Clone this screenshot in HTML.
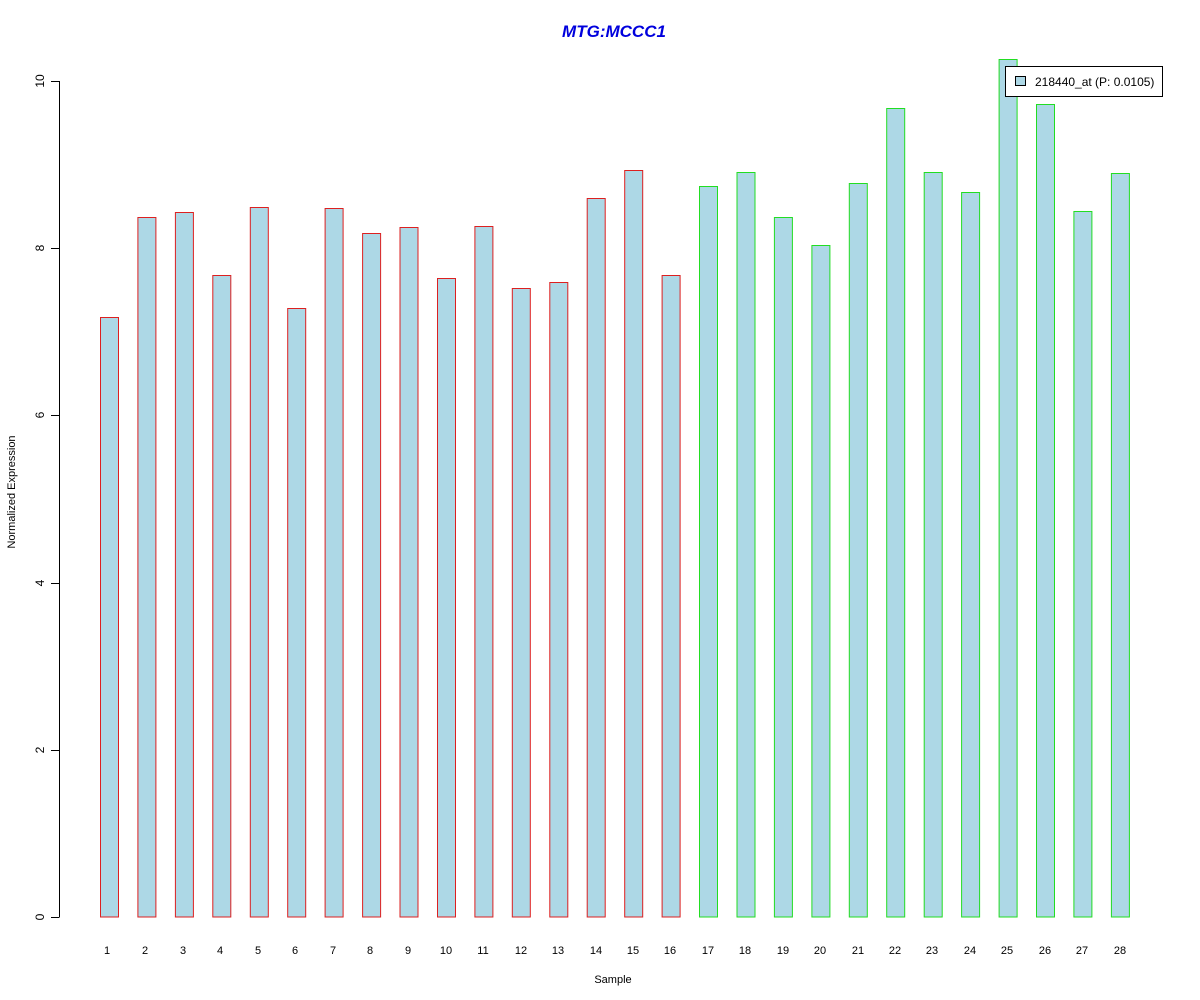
<!DOCTYPE html>
<html><head><style>body{margin:0;background:#fff}svg{display:block}</style></head><body>
<svg width="1200" height="1000" xmlns="http://www.w3.org/2000/svg" font-family="Liberation Sans, Arial, sans-serif">
<rect width="1200" height="1000" fill="#fff"/>
<text x="614" y="37" text-anchor="middle" font-size="17" font-weight="bold" font-style="italic" fill="#0000dd">MTG:MCCC1</text>
<g fill="#add8e6" stroke="#dd2020" stroke-width="1">
<rect x="100.5" y="317.5" width="18" height="599.5"/>
<rect x="137.9" y="217.5" width="18" height="699.5"/>
<rect x="175.4" y="212.5" width="18" height="704.5"/>
<rect x="212.8" y="275.5" width="18" height="641.5"/>
<rect x="250.3" y="207.5" width="18" height="709.5"/>
<rect x="287.7" y="308.5" width="18" height="608.5"/>
<rect x="325.1" y="208.5" width="18" height="708.5"/>
<rect x="362.6" y="233.5" width="18" height="683.5"/>
<rect x="400" y="227.5" width="18" height="689.5"/>
<rect x="437.5" y="278.5" width="18" height="638.5"/>
<rect x="474.9" y="226.5" width="18" height="690.5"/>
<rect x="512.3" y="288.5" width="18" height="628.5"/>
<rect x="549.8" y="282.5" width="18" height="634.5"/>
<rect x="587.2" y="198.5" width="18" height="718.5"/>
<rect x="624.7" y="170.5" width="18" height="746.5"/>
<rect x="662.1" y="275.5" width="18" height="641.5"/>
</g>
<g fill="#add8e6" stroke="#22dd22" stroke-width="1">
<rect x="699.5" y="186.5" width="18" height="730.5"/>
<rect x="737" y="172.5" width="18" height="744.5"/>
<rect x="774.4" y="217.5" width="18" height="699.5"/>
<rect x="811.9" y="245.5" width="18" height="671.5"/>
<rect x="849.3" y="183.5" width="18" height="733.5"/>
<rect x="886.7" y="108.5" width="18" height="808.5"/>
<rect x="924.2" y="172.5" width="18" height="744.5"/>
<rect x="961.6" y="192.5" width="18" height="724.5"/>
<rect x="999.1" y="59.5" width="18" height="857.5"/>
<rect x="1036.5" y="104.5" width="18" height="812.5"/>
<rect x="1073.9" y="211.5" width="18" height="705.5"/>
<rect x="1111.4" y="173.5" width="18" height="743.5"/>
</g>
<g stroke="#000" stroke-width="1">
<line x1="59.5" y1="81" x2="59.5" y2="917"/>
<line x1="51" y1="917.5" x2="59.5" y2="917.5"/>
<line x1="51" y1="750.5" x2="59.5" y2="750.5"/>
<line x1="51" y1="583.5" x2="59.5" y2="583.5"/>
<line x1="51" y1="415.5" x2="59.5" y2="415.5"/>
<line x1="51" y1="248.5" x2="59.5" y2="248.5"/>
<line x1="51" y1="81.5" x2="59.5" y2="81.5"/>
</g>
<g font-size="12" text-anchor="middle" fill="#000">
<text transform="translate(44,917) rotate(-90)">0</text>
<text transform="translate(44,750) rotate(-90)">2</text>
<text transform="translate(44,583) rotate(-90)">4</text>
<text transform="translate(44,415) rotate(-90)">6</text>
<text transform="translate(44,248) rotate(-90)">8</text>
<text transform="translate(44,81) rotate(-90)">10</text>
<text transform="translate(15,492) rotate(-90)" font-size="11">Normalized Expression</text>
</g>
<g font-size="11" text-anchor="middle" fill="#000">
<text x="107" y="954">1</text><text x="145" y="954">2</text><text x="183" y="954">3</text><text x="220" y="954">4</text><text x="258" y="954">5</text><text x="295" y="954">6</text><text x="333" y="954">7</text><text x="370" y="954">8</text><text x="408" y="954">9</text><text x="446" y="954">10</text><text x="483" y="954">11</text><text x="521" y="954">12</text><text x="558" y="954">13</text><text x="596" y="954">14</text><text x="633" y="954">15</text><text x="670" y="954">16</text><text x="708" y="954">17</text><text x="745" y="954">18</text><text x="783" y="954">19</text><text x="820" y="954">20</text><text x="858" y="954">21</text><text x="895" y="954">22</text><text x="932" y="954">23</text><text x="970" y="954">24</text><text x="1007" y="954">25</text><text x="1045" y="954">26</text><text x="1082" y="954">27</text><text x="1120" y="954">28</text>
<text x="613" y="983">Sample</text>
</g>
<rect x="1005.5" y="66.5" width="157" height="30" fill="#fff" stroke="#000"/>
<rect x="1015.5" y="76.5" width="10" height="9" fill="#add8e6" stroke="#000"/>
<text x="1035" y="86" font-size="12" fill="#000">218440_at (P: 0.0105)</text>
</svg>
</body></html>
